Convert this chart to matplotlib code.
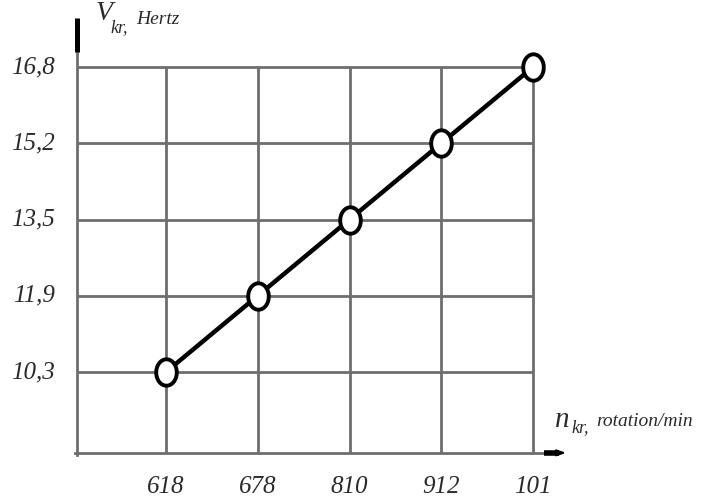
import numpy as np
import matplotlib
matplotlib.use("Agg")
import matplotlib.pyplot as plt
from matplotlib.path import Path

# Data
x_labels = ["618", "678", "810", "912", "101"]
y_values = [10.3, 11.9, 13.5, 15.2, 16.8]
y_labels = ["10,3", "11,9", "13,5", "15,2", "16,8"]

xpos = np.arange(1, len(x_labels) + 1)
ypos = np.arange(1, len(y_values) + 1)

fig = plt.figure(figsize=(7.08, 4.97), dpi=100)
ax = fig.add_axes([0, 0, 1, 1])
ax.set_xlim(-0.809, 6.907)
ax.set_ylim(-0.639, 5.879)
ax.axis("off")

x_axis = 0.03
y_axis = -0.06
grid_c = "#6e6e6e"

# grid
ax.vlines(xpos, y_axis, ypos[-1], color=grid_c, lw=2, zorder=1)
ax.hlines(ypos, x_axis, xpos[-1], color=grid_c, lw=2, zorder=1)

# axes
ax.plot([x_axis, x_axis], [y_axis - 0.03, 5.3], color=grid_c, lw=2, zorder=1)
ax.plot([x_axis - 0.02, 5.15], [y_axis, y_axis], color=grid_c, lw=2, zorder=1)
# arrow bars
ax.plot([x_axis, x_axis], [5.2, 5.64], color="black", lw=3.6, solid_capstyle="butt", zorder=2)
ax.plot([5.12, 5.28], [y_axis, y_axis], color="black", lw=4, solid_capstyle="butt", zorder=2)
ax.annotate("", xy=(5.36, y_axis), xytext=(5.26, y_axis),
            arrowprops=dict(arrowstyle="-|>,head_length=0.5,head_width=0.18",
                            color="black", lw=1.5, shrinkA=0, shrinkB=0), zorder=3)

# ellipse marker
t = np.linspace(0, 2 * np.pi, 60)
ell = Path(np.column_stack([0.78 * np.cos(t), np.sin(t)]))

ax.plot(xpos, ypos, color="black", lw=3.2, zorder=3,
        marker=ell, markersize=19, markerfacecolor="white",
        markeredgecolor="black", markeredgewidth=2.8)

font = dict(family="Liberation Serif", style="italic", color="#2a2a2a")
for yp, lab in zip(ypos, y_labels):
    ax.text(-0.21, yp, lab, ha="right", va="center", fontsize=18, **font)
for xp, lab in zip(xpos, x_labels):
    ax.text(xp, -0.51, lab, ha="center", va="center", fontsize=18, **font)

# axis titles
fig.text(96 / 708, 1 - 14 / 497, "V", ha="left", va="center", fontsize=20, **font)
fig.text(110 / 708, 1 - 28 / 497, "kr,", ha="left", va="center", fontsize=13, **font)
fig.text(136 / 708, 1 - 19 / 497, "Hertz", ha="left", va="center", fontsize=14, **font)

fig.text(555 / 708, 1 - 420 / 497, "n", ha="left", va="center", fontsize=21, **font)
fig.text(571 / 708, 1 - 428 / 497, "kr,", ha="left", va="center", fontsize=13, **font)
fig.text(596 / 708, 1 - 422 / 497, "rotation/min", ha="left", va="center", fontsize=14, **font)

fig.savefig("out.png", dpi=100)
